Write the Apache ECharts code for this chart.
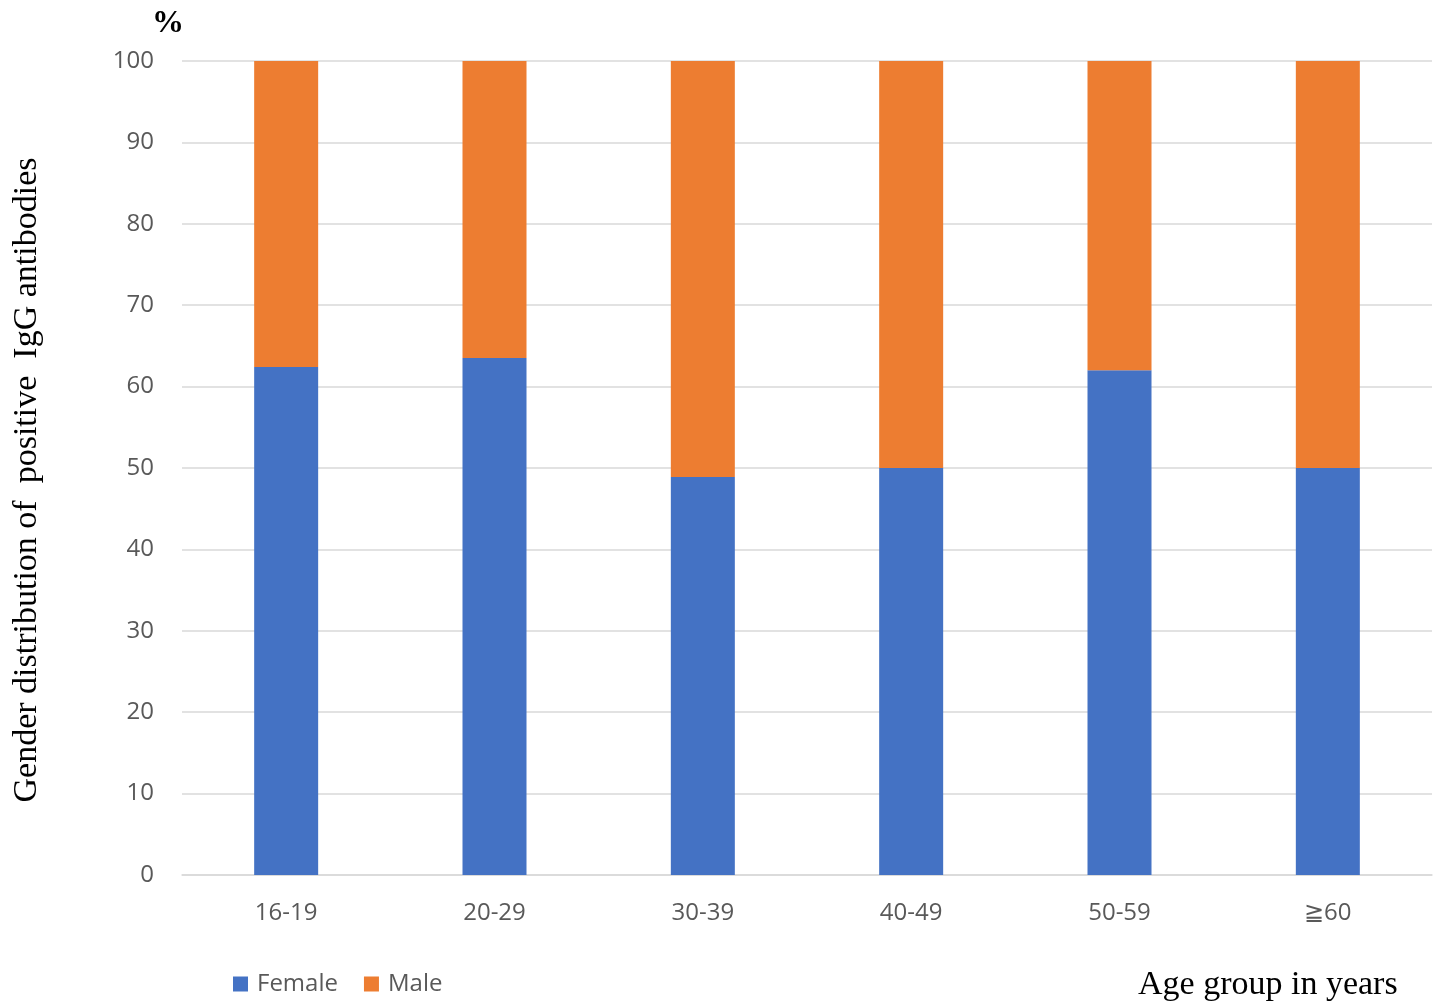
<!DOCTYPE html>
<html>
<head>
<meta charset="utf-8">
<script src="https://cdn.jsdelivr.net/npm/echarts@6/dist/echarts.min.js"></script>
<style>html,body{margin:0;padding:0;background:#fff;}#c{width:1438px;height:1001px;}</style>
</head>
<body>
<div id="c"></div>
<script>
const categories = ['16-19', '20-29', '30-39', '40-49', '50-59', '≧60'];
const female = [62.4, 63.5, 48.9, 50, 62, 50];
const male = [37.6, 36.5, 51.1, 50, 38, 50];
const yTicks = { min: 0, max: 100, interval: 10 };

const chart = echarts.init(document.getElementById('c'));
chart.setOption({
  animation: false,
  backgroundColor: '#fff',
  grid: { left: 182, right: 6, top: 61, bottom: 126, containLabel: false },
  legend: {
    left: 228, top: 967,
    itemWidth: 15, itemHeight: 15, itemGap: 26,
    icon: 'rect',
    textStyle: { fontFamily: 'Open Sans', fontSize: 24, color: '#595959', padding: [0, 0, 0, 4] },
    data: ['Female', 'Male']
  },
  xAxis: {
    type: 'category',
    data: categories,
    axisLine: { lineStyle: { color: '#d9d9d9', width: 1.5 } },
    axisTick: { show: false },
    axisLabel: { fontFamily: 'Open Sans', fontSize: 24, color: '#595959', margin: 26 }
  },
  yAxis: {
    type: 'value',
    min: yTicks.min, max: yTicks.max, interval: yTicks.interval,
    axisLine: { show: false },
    axisTick: { show: false },
    splitLine: { lineStyle: { color: '#d9d9d9', width: 1.5 } },
    axisLabel: { fontFamily: 'Open Sans', fontSize: 24, color: '#595959', margin: 28 }
  },
  graphic: [
    { type: 'text', left: 152, top: 8, style: { text: '%', font: 'bold 32px "Liberation Serif"', fill: '#000' } },
    { type: 'text', x: 27, y: 480, rotation: Math.PI / 2,
      style: { text: 'Gender distribution of  positive  IgG antibodies', font: '34px "Liberation Serif"', fill: '#000', align: 'center', verticalAlign: 'middle' } },
    { type: 'text', left: 1138, top: 968, style: { text: 'Age group in years', font: '34px "Liberation Serif"', fill: '#000' } }
  ],
  series: [
    { name: 'Female', type: 'bar', stack: 'a', data: female, barWidth: 64, itemStyle: { color: '#4472c4' } },
    { name: 'Male', type: 'bar', stack: 'a', data: male, barWidth: 64, itemStyle: { color: '#ed7d31' } }
  ]
});
</script>
</body>
</html>
